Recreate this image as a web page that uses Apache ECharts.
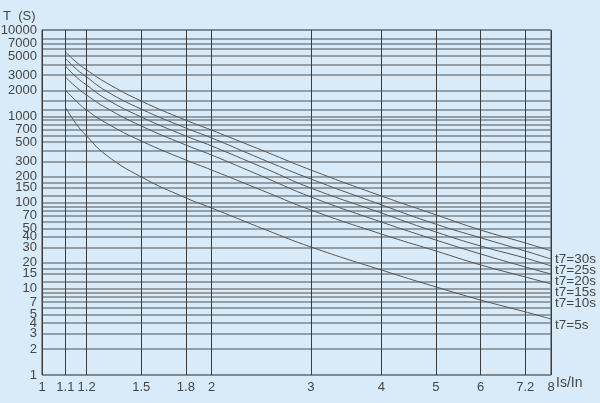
<!DOCTYPE html>
<html>
<head>
<meta charset="utf-8">
<script src="https://cdn.jsdelivr.net/npm/echarts@6/dist/echarts.min.js"></script>
<style>
html,body{margin:0;padding:0;background:#d9ebf8;}
#c{width:600px;height:403px;}
</style>
</head>
<body>
<div id="c"></div>
<script>
// Current multiple Is/In (x) values where curves are sampled
const xValues = [1.1, 1.15, 1.2, 1.3, 1.5, 1.8, 2, 2.5, 3, 4, 5, 6, 7.2, 8];
// Trip time T (s) for each t7 setting
const t30 = [5600, 4250, 3450, 2450, 1500, 900, 690, 385, 238, 119, 72, 48, 34, 27.5];
const t25 = [4700, 3530, 2850, 1960, 1210, 730, 560, 303, 187, 94, 56, 39, 27.4, 22.1];
const t20 = [3820, 2850, 2300, 1585, 980, 590, 452, 245, 147, 75.6, 45.5, 31.3, 22.7, 18.4];
const t15 = [2850, 2180, 1760, 1250, 771, 464, 355, 192, 116, 59.4, 36.7, 25.3, 17.9, 14.8];
const t10 = [2015, 1500, 1180, 835, 516, 311, 238, 132, 81.8, 43.1, 27.4, 18.9, 13.7, 11.4];
const t5  = [1280, 813, 590, 355, 198, 113, 86.3, 48, 30.5, 16.5, 10.5, 7.4, 5.4, 4.46];
const seriesNames = ['t7=30s', 't7=25s', 't7=20s', 't7=15s', 't7=10s', 't7=5s'];

// Axis tick labels
const xTickLabels = [1, 1.1, 1.2, 1.5, 1.8, 2, 3, 4, 5, 6, 7.2, 8];
const yTickLabels = [1, 2, 3, 4, 5, 7, 10, 15, 20, 30, 40, 50, 70, 100, 150, 200, 300, 500, 700, 1000, 2000, 3000, 5000, 7000, 10000];
// Horizontal grid rule values (log paper)
const yGridValues = [1, 2, 3, 4, 5, 6, 7, 8, 9,
  10, 12, 15, 17, 20, 30, 40, 50, 60, 70, 80, 90,
  100, 120, 150, 170, 200, 300, 400, 500, 600, 700, 800, 900,
  1000, 1200, 1500, 2000, 3000, 4000, 5000, 6000, 7000, 8000, 10000];

const allSeries = [t30, t25, t20, t15, t10, t5];
const labelDy = [8, 11, 15, 18, 19, 6];

const chart = echarts.init(document.getElementById('c'), null, {renderer: 'canvas'});
const FONT = 'Liberation Sans, Arial, sans-serif';
const TXT = '#454545';

const curveSeries = allSeries.map((arr, i) => ({
  type: 'line',
  name: seriesNames[i],
  data: xValues.map((x, j) => [x, arr[j]]),
  smooth: 0.5,
  symbol: 'none',
  lineStyle: {color: '#555', width: 1},
  silent: true,
  z: 5,
  endLabel: {
    show: true,
    formatter: seriesNames[i],
    color: TXT,
    fontFamily: FONT,
    fontSize: 13.5,
    distance: 4,
    offset: [0, labelDy[i]]
  }
}));

const ySet = new Set(yTickLabels);
const gridSeries = {
  type: 'line',
  data: [],
  silent: true,
  z: 2,
  markLine: {
    silent: true,
    symbol: 'none',
    animation: false,
    data: [
      ...yGridValues.map(v => ({
        yAxis: v,
        lineStyle: {color: '#7d858c', width: 1.5, type: 'solid'},
        label: {show: ySet.has(v), position: 'start', formatter: String(v), color: TXT, fontFamily: FONT, fontSize: 13, distance: 5}
      })),
      ...xTickLabels.map(v => ({
        xAxis: v,
        lineStyle: {color: '#3c3c3c', width: 1, type: 'solid'},
        label: {show: true, position: 'start', formatter: String(v), color: TXT, fontFamily: FONT, fontSize: 13, distance: 6}
      }))
    ]
  }
};

chart.setOption({
  backgroundColor: '#d9ebf8',
  animation: false,
  grid: {left: 42, right: 49, top: 30, bottom: 28, show: true, borderColor: '#3c3c3c', borderWidth: 1},
  xAxis: {type: 'log', logBase: 10, min: 1, max: 8,
    axisLine: {show: false}, axisTick: {show: false}, axisLabel: {show: false}, splitLine: {show: false}},
  yAxis: {type: 'log', logBase: 10, min: 1, max: 10000,
    axisLine: {show: false}, axisTick: {show: false}, axisLabel: {show: false}, splitLine: {show: false}},
  graphic: [
    {type: 'text', left: 3, top: 10, style: {text: 'T  (S)', fill: TXT, font: '13px ' + FONT}},
    {type: 'text', left: 556, top: 376, style: {text: 'Is/In', fill: TXT, font: '14px ' + FONT}}
  ],
  series: [gridSeries, ...curveSeries]
});
</script>
</body>
</html>
